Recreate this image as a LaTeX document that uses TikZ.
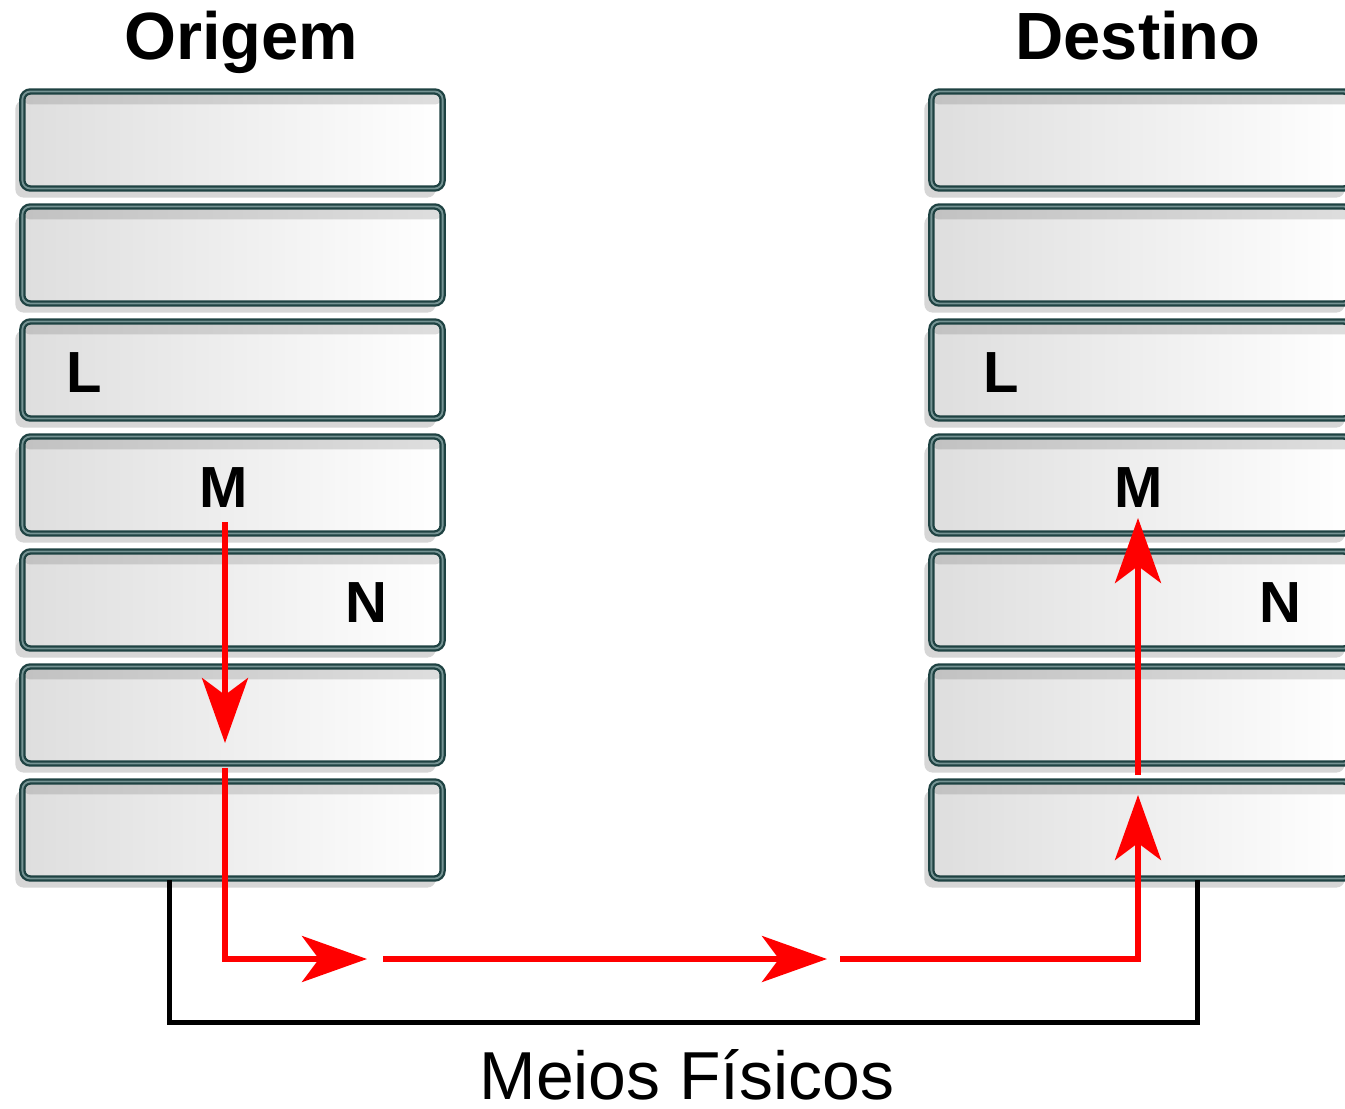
\documentclass[tikz,border=0pt]{standalone}
\usepackage{fontspec}
\setmainfont{Liberation Sans}
\usetikzlibrary{arrows.meta,shadows}

\definecolor{layerborder}{RGB}{30,66,66}
\definecolor{layerinner}{RGB}{118,148,148}

\tikzset{
  layer/.style={draw=layerborder, double=layerinner, double distance=0.018cm, line width=0.023cm,
    rounded corners=0.08cm, minimum width=4.2cm, minimum height=0.97cm,
    left color=black!13, right color=white,
    drop shadow={shadow xshift=-0.07cm, shadow yshift=-0.09cm, fill=black!16, opacity=1},
    path picture={\shade[left color=black!24, right color=black!13]
      (path picture bounding box.north west) rectangle ([yshift=-0.13cm]path picture bounding box.north east);}},
  title/.style={font=\fontsize{19pt}{23pt}\selectfont\bfseries, anchor=base},
  letter/.style={font=\fontsize{16.5pt}{20pt}\selectfont\bfseries, anchor=base},
  flow/.style={red, line width=0.055cm, -{Stealth[length=0.65cm, width=0.46cm, inset=0.17cm]}},
  wire/.style={black, line width=0.05cm}
}

\begin{document}
\begin{tikzpicture}[x=0.01cm, y=-0.01cm]
    \useasboundingbox (0,0) rectangle (1345,1109);

    % Titles
    \node[title] (origem) at (241,60) {Origem};
    \node[title] (destino) at (1138,60) {Destino};

    % Origin stack
    \node[layer] (o1) at (232.5,140) {};
    \node[layer] (o2) at (232.5,255) {};
    \node[layer] (o3) at (232.5,370) {};
    \node[layer] (o4) at (232.5,485) {};
    \node[layer] (o5) at (232.5,600) {};
    \node[layer] (o6) at (232.5,715) {};
    \node[layer] (o7) at (232.5,830) {};

    % Destination stack
    \node[layer] (d1) at (1141.5,140) {};
    \node[layer] (d2) at (1141.5,255) {};
    \node[layer] (d3) at (1141.5,370) {};
    \node[layer] (d4) at (1141.5,485) {};
    \node[layer] (d5) at (1141.5,600) {};
    \node[layer] (d6) at (1141.5,715) {};
    \node[layer] (d7) at (1141.5,830) {};

    % Layer letters
    \node[letter] (ol) at (84,392) {L};
    \node[letter] (om) at (224,507) {M};
    \node[letter] (on) at (366,622) {N};
    \node[letter] (dl) at (1001,392) {L};
    \node[letter] (dm) at (1139,507) {M};
    \node[letter] (dn) at (1280,622) {N};

    % Physical medium
    \coordinate (wa) at (169,880);
    \coordinate (wb) at (169,1022);
    \coordinate (wc) at (1197,1022);
    \coordinate (wd) at (1197,880);
    \draw[wire] (wa) -- (wb) -- (wc) -- (wd);
    \node[font=\fontsize{19.3pt}{23pt}\selectfont, anchor=base, inner sep=0pt] (meios) at (687,1099) {Meios Físicos};

    % Path of the data
    \coordinate (f1) at (225,522);
    \coordinate (f2) at (225,743);
    \coordinate (f3) at (225,768);
    \coordinate (f4) at (225,959);
    \coordinate (f5) at (367,959);
    \coordinate (f6) at (383,959);
    \coordinate (f7) at (827,959);
    \coordinate (f8) at (840,959);
    \coordinate (f9) at (1138,959);
    \coordinate (f10) at (1138,795);
    \coordinate (f11) at (1138,775);
    \coordinate (f12) at (1138,518);
    \draw[flow] (f1) -- (f2);
    \draw[flow] (f3) -- (f4) -- (f5);
    \draw[flow] (f6) -- (f7);
    \draw[flow] (f8) -- (f9) -- (f10);
    \draw[flow] (f11) -- (f12);
\end{tikzpicture}
\end{document}
